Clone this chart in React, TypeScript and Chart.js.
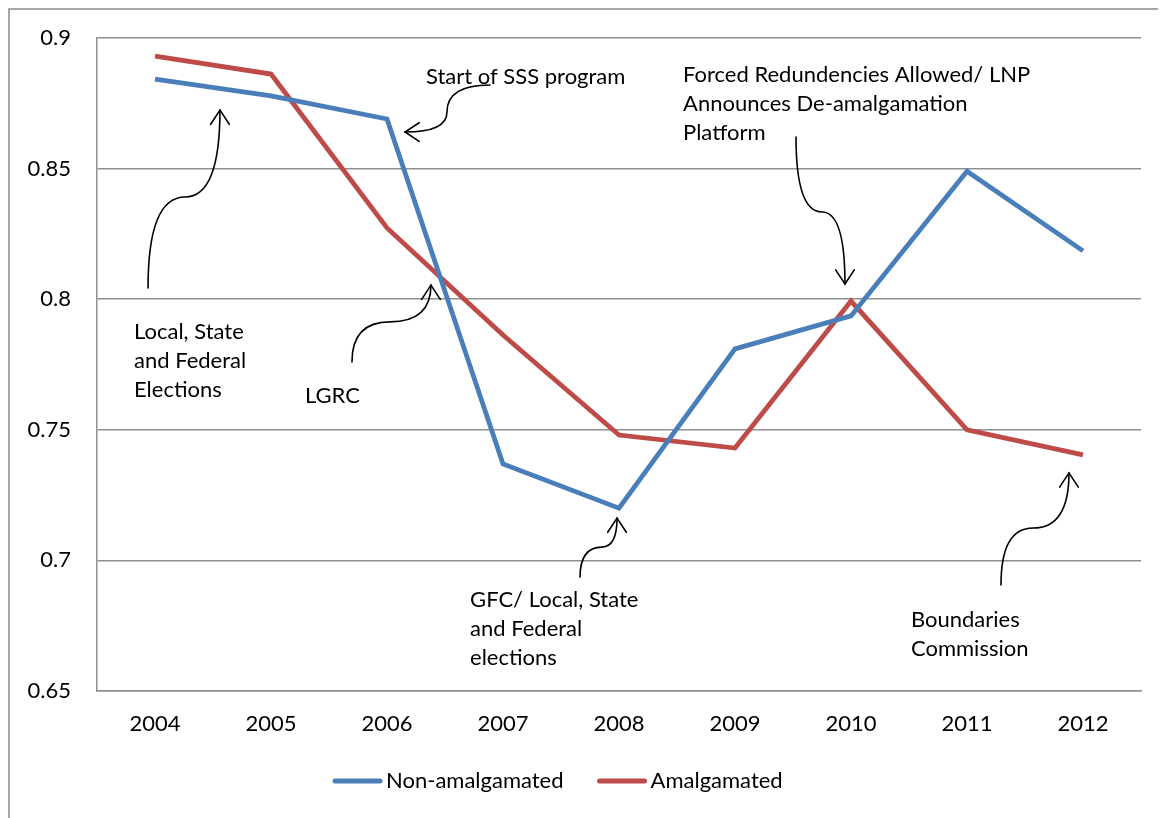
import React, { useEffect, useRef } from "react";
import { Chart, registerables } from "chart.js";

Chart.register(...registerables);

const years = ["2004", "2005", "2006", "2007", "2008", "2009", "2010", "2011", "2012"];
const nonAmalgamated = [0.8843, 0.8778, 0.869, 0.7369, 0.72, 0.781, 0.7936, 0.849, 0.8185];
const amalgamated = [0.8931, 0.8862, 0.8273, 0.7863, 0.748, 0.743, 0.7993, 0.75, 0.7404];
const yTicks = [0.65, 0.7, 0.75, 0.8, 0.85, 0.9];

// annotation labels anchored in data space: [category index, value]
const noteTexts = [
  ["Start of SSS program"],
  ["Local, State", "and Federal", "Elections"],
  ["LGRC"],
  ["GFC/ Local, State", "and Federal", "elections"],
  ["Forced Redundencies Allowed/ LNP", "Announces De-amalgamation", "Platform"],
  ["Boundaries", "Commission"],
];
const noteX = [2.336, -0.181, 1.293, 2.716, 4.552, 6.517];
const noteY = [0.8851, 0.7874, 0.7629, 0.6848, 0.8858, 0.6772];

// curved arrows: start, bend, end (category index, value); mode "h" = horizontal ends, "v" = vertical ends
const arrowStart = [[2.888, 0.882], [-0.06, 0.8043], [1.698, 0.776], [3.664, 0.6936], [5.526, 0.8621], [7.293, 0.6906]];
const arrowBend = [[2.517, 0.8717], [0.259, 0.8391], [2.026, 0.7913], [3.853, 0.7051], [5.75, 0.8334], [7.569, 0.7124]];
const arrowEnd = [[2.155, 0.864], [0.56, 0.8724], [2.379, 0.8054], [3.983, 0.7162], [5.948, 0.8058], [7.879, 0.7335]];
const arrowMode = ["h", "v", "v", "v", "v", "v"];

const FONT = "Lato, 'Open Sans', sans-serif";
const TICK_SIZE = 22;
const NOTE_SIZE = 22;
const BLUE = "#4A7EBB";
const RED = "#BE4B48";
const GRID = "#8f8f8f";

const annotationPlugin = {
  id: "annotations",
  afterDatasetsDraw(chart: any) {
    const ctx = chart.ctx;
    const xs = chart.scales.x;
    const ys = chart.scales.y;
    const px = (i: number) => xs.getPixelForValue(0) + i * (xs.getPixelForValue(1) - xs.getPixelForValue(0));
    const py = (v: number) => ys.getPixelForValue(v);
    ctx.save();
    // outer frame (top and left)
    ctx.strokeStyle = "#8a8a8a";
    ctx.lineWidth = 1.5;
    ctx.beginPath();
    ctx.moveTo(chart.width, 1);
    ctx.lineTo(1, 1);
    ctx.lineTo(1, chart.height);
    ctx.stroke();

    // texts
    ctx.fillStyle = "#000";
    ctx.font = `${NOTE_SIZE}px ${FONT}`;
    ctx.textAlign = "left";
    ctx.textBaseline = "middle";
    noteTexts.forEach((lines, k) => {
      const x = px(noteX[k]);
      const y = py(noteY[k]);
      lines.forEach((t, j) => ctx.fillText(t, x, y + j * 29));
    });

    // arrows
    ctx.strokeStyle = "#000";
    ctx.lineWidth = 1.6;
    ctx.lineCap = "round";
    arrowStart.forEach((s, k) => {
      const sx = px(s[0]), sy = py(s[1]);
      const mx = px(arrowBend[k][0]), my = py(arrowBend[k][1]);
      const ex = px(arrowEnd[k][0]), ey = py(arrowEnd[k][1]);
      let c1x, c1y, c2x, c2y;
      if (arrowMode[k] === "v") {
        c1x = sx; c1y = my; c2x = ex; c2y = my;
      } else {
        c1x = mx; c1y = sy; c2x = mx; c2y = ey;
      }
      ctx.beginPath();
      ctx.moveTo(sx, sy);
      ctx.quadraticCurveTo(c1x, c1y, mx, my);
      ctx.quadraticCurveTo(c2x, c2y, ex, ey);
      ctx.stroke();
      const ang = Math.atan2(ey - c2y, ex - c2x);
      const L = 17, A = 0.58;
      ctx.beginPath();
      ctx.moveTo(ex - L * Math.cos(ang - A), ey - L * Math.sin(ang - A));
      ctx.lineTo(ex, ey);
      ctx.lineTo(ex - L * Math.cos(ang + A), ey - L * Math.sin(ang + A));
      ctx.stroke();
    });

    // legend
    const ca = chart.chartArea;
    let lx = ca.left + 236;
    const ly = ca.bottom + 90;
    ctx.font = `${TICK_SIZE}px ${FONT}`;
    chart.data.datasets.forEach((ds: any) => {
      ctx.strokeStyle = ds.borderColor;
      ctx.lineWidth = 5;
      ctx.lineCap = "round";
      ctx.beginPath();
      ctx.moveTo(lx + 2, ly);
      ctx.lineTo(lx + 47, ly);
      ctx.stroke();
      lx += 53;
      ctx.fillStyle = "#000";
      ctx.fillText(ds.label, lx, ly);
      lx += ctx.measureText(ds.label).width + 34;
    });
    ctx.restore();
  },
};

export default function App() {
  const ref = useRef<HTMLCanvasElement | null>(null);
  useEffect(() => {
    if (!ref.current) return;
    const chart = new Chart(ref.current, {
      type: "line",
      data: {
        labels: years,
        datasets: [
          { label: "Non-amalgamated", data: nonAmalgamated, borderColor: BLUE, backgroundColor: BLUE, borderWidth: 4.8, pointRadius: 0, tension: 0 },
          { label: "Amalgamated", data: amalgamated, borderColor: RED, backgroundColor: RED, borderWidth: 4.8, pointRadius: 0, tension: 0 },
        ],
      },
      options: {
        animation: false,
        responsive: false,
        layout: { padding: { top: 30, right: 25, left: 0, bottom: 0 } },
        plugins: { legend: { display: false }, tooltip: { enabled: false } },
        scales: {
          x: {
            offset: true,
            grid: { display: false, drawTicks: false },
            border: { display: true, color: GRID, width: 1.5 },
            ticks: { color: "#000", font: { family: FONT, size: TICK_SIZE }, padding: 20, maxRotation: 0 },
            afterFit: (s: any) => { s.height = 127; s.paddingLeft = 0; s.paddingRight = 0; },
          },
          y: {
            min: 0.65,
            max: 0.9,
            afterBuildTicks: (s: any) => { s.ticks = yTicks.map((v) => ({ value: v })); },
            grid: { color: GRID, lineWidth: 1.5, drawTicks: false },
            border: { display: true, color: GRID, width: 1.5 },
            ticks: {
              color: "#000",
              font: { family: FONT, size: TICK_SIZE },
              padding: 26,
              callback: (v: any) => String(Number(Number(v).toFixed(2))),
            },
            afterFit: (s: any) => { s.width = 89; s.paddingTop = 0; s.paddingBottom = 0; },
          },
        },
      },
      plugins: [annotationPlugin],
    });
    return () => chart.destroy();
  }, []);
  return (
    <div style={{ width: 1158, height: 810 }}>
      <canvas ref={ref} width={1158} height={810} style={{ display: "block" }} />
    </div>
  );
}
